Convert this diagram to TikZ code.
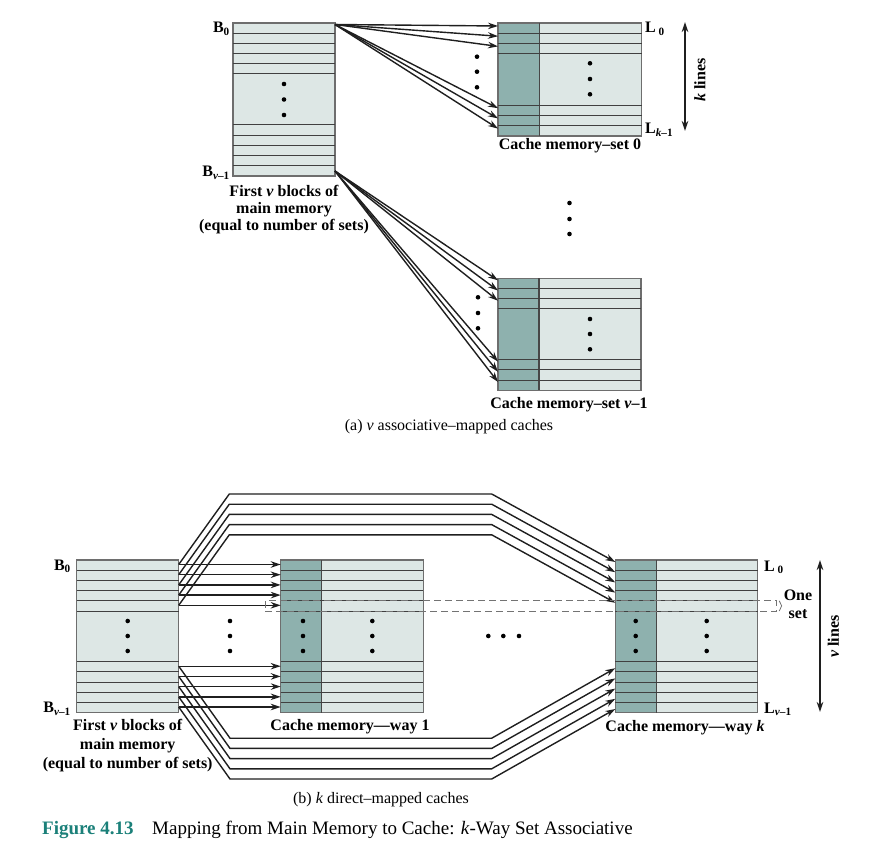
\documentclass[tikz,border=0pt]{standalone}
\usepackage{fontspec}
\setmainfont{Liberation Serif}
\usetikzlibrary{arrows.meta,calc,decorations.pathreplacing}
\definecolor{memlight}{HTML}{DDE7E5}
\definecolor{memdark}{HTML}{8EB1AE}
\definecolor{memedge}{HTML}{6E6E6E}
\definecolor{figteal}{HTML}{1B8079}
\newcommand\rowlines[3]{\foreach \yy in {#3} \draw[rowln] (#1,\yy) -- (#2,\yy);}
\begin{document}
\begin{tikzpicture}[x=1pt,y=-1pt,
  blk/.style={rectangle, draw=memedge, line width=1.2pt, fill=memlight, inner sep=0pt, outer sep=0pt, anchor=north west},
  dkcol/.style={path picture={\fill[memdark] (path picture bounding box.north west) rectangle ([xshift=#1]path picture bounding box.south west);}},
  rowln/.style={draw=black!75, line width=1pt},
  divln/.style={draw=black!72, line width=1.2pt},
  arr/.style={line width=1.4pt, black!88, -{Stealth[length=10pt,width=6.5pt]}},
  dbl/.style={line width=1.5pt, black!88, {Stealth[length=10pt,width=6.5pt]}-{Stealth[length=10pt,width=6.5pt]}},
  lab/.style={font=\fontsize{16}{18}\selectfont\bfseries, inner sep=0pt},
  reg/.style={font=\fontsize{16}{18}\selectfont, inner sep=0pt},
  dotc/.style={fill=black}
]
\useasboundingbox (0,0) rectangle (892,853);

% ================= (a) =================
\node[blk, minimum width=102pt, minimum height=153pt] (ma) at (233,23) {};
\rowlines{233}{335}{33.2,43.4,53.6,63.8,74,125,135.2,145.4,155.6,165.8}

\node[blk, dkcol=41.3pt, minimum width=143.5pt, minimum height=113pt] (c0) at (498,23) {};
\draw[divln] ($(c0.north west)+(41.3,0)$) -- ($(c0.south west)+(41.3,0)$);
\rowlines{498}{641.5}{33.2,43.4,53.6,105.2,115.4,125.6}

\node[blk, dkcol=41pt, minimum width=143pt, minimum height=112pt] (c1) at (498,278.3) {};
\draw[divln] ($(c1.north west)+(41,0)$) -- ($(c1.south west)+(41,0)$);
\rowlines{498}{641}{288.5,298.7,308.9,359.6,369.8,380}

\foreach \o in {3,13.2,23.4,85.2,95.4,105.6}
  \draw[arr] ($(ma.north east)+(0,1.5)$) -- ($(c0.north west)+(0,\o)$);
\foreach \o in {2,12.2,22.4,83.3,93.5,103.7}
  \draw[arr] ($(ma.south east)+(0,-5)$) -- ($(c1.north west)+(0,\o)$);

% dots (a)
\foreach \p in {(284,84),(284,99.5),(284,115),
                (477,56.7),(477,71.7),(477,87.3),
                (590,63.3),(590,79),(590,94.3),
                (569.5,203),(569.5,219),(569.5,234),
                (478,297.3),(478,313),(478,328.3),
                (590,319),(590,334),(590,349.3)}
  \fill[dotc] \p circle (2.3pt);

\node[lab, anchor=base east] (b0a) at (230,32.7) {B\textsubscript{0}};
\node[lab, anchor=base east] (bva) at (230,176.5) {B\textsubscript{\textit{v}–1}};
\node[lab, anchor=base] (fa1) at (284,196.5) {First \textit{v} blocks of};
\node[lab, anchor=base] (fa2) at (284,213.8) {main memory};
\node[lab, anchor=base] (fa3) at (284,230.5) {(equal to number of sets)};
\node[lab, anchor=base west] (l0a) at (645,32.7) {L\,\textsubscript{0}};
\node[lab, anchor=base west] (lka) at (645,134) {L\textsubscript{\textit{k}–1}};
\coordinate (ka1) at (685,22);
\coordinate (ka2) at (685,131);
\draw[dbl] (ka1) -- (ka2);
\node[lab, rotate=90] (klines) at (700,80) {\textit{k} lines};
\node[lab, anchor=base] (cs0) at (570,150) {Cache memory–set 0};
\node[lab, anchor=base] (csv) at (569,408) {Cache memory–set \textit{v}–1};
\node[reg, anchor=base] (capa) at (449,430) {(a) \textit{v} associative–mapped caches};

% ================= (b) =================
\node[blk, minimum width=102pt, minimum height=152.7pt] (mb) at (76.7,560) {};
\rowlines{76.7}{178.7}{570.2,580.4,590.6,600.8,611,661.7,671.9,682.1,692.3,702.5}

\node[blk, dkcol=40.6pt, minimum width=142.6pt, minimum height=152.7pt] (w1) at (280.7,560) {};
\draw[divln] ($(w1.north west)+(40.6,0)$) -- ($(w1.south west)+(40.6,0)$);
\rowlines{280.7}{423.3}{570.2,580.4,590.6,600.8,611,661.7,671.9,682.1,692.3,702.5}

\node[blk, dkcol=41pt, minimum width=142.4pt, minimum height=152.7pt] (wk) at (615.3,560) {};
\draw[divln] ($(wk.north west)+(41,0)$) -- ($(wk.south west)+(41,0)$);
\rowlines{615.3}{757.7}{570.2,580.4,590.6,600.8,611,661.7,671.9,682.1,692.3,702.5}

% horizontal arrows to way 1
\foreach \o in {4.5,14.7,24.9,35.1,45.3,106.2,116.4,126.6,136.8,147}
  \draw[arr] ($(mb.north east)+(0,\o)$) -- ($(w1.north west)+(0,\o)$);
% long arrows over the top to way k
\foreach \o in {4.5,14.7,24.9,35.1,45.3}
  \draw[arr] ($(mb.north east)+(0,\o)$) -- ++(50.6,-70.5) -- ++(262.4,0) -- ($(wk.north west)+(0,{\o-2.5})$);
% long arrows under the bottom to way k
\foreach \o in {106.2,116.4,126.6,136.8,147}
  \draw[arr] ($(mb.north east)+(0,\o)$) -- ++(51.3,72) -- ++(261.7,0) -- ($(wk.north west)+(0,{\o+2})$);

% dots (b)
\foreach \xx in {127.7,230,303,372.3,635.7,706.7}
  \foreach \yy in {621,636,651}
    \fill[dotc] (\xx,\yy) circle (2.3pt);
\foreach \xx in {488.3,503.3,519}
  \fill[dotc] (\xx,636) circle (2.3pt);

% one set dashed box and brace
\node[rectangle, draw=black!55, line width=1pt, dash pattern=on 7pt off 4pt, inner sep=0pt, outer sep=0pt,
      minimum width=511.7pt, minimum height=10.2pt, anchor=north west] (oneset) at (265,600.8) {};
\draw[black!55, line width=0.8pt, decorate, decoration={brace, amplitude=2.5pt}]
  ($(oneset.north east)+(2.5,0)$) -- ($(oneset.south east)+(2.5,0)$);

\node[lab, anchor=base east] (b0b) at (71,570) {B\textsubscript{0}};
\node[lab, anchor=base east] (bvb) at (71,712.7) {B\textsubscript{\textit{v}–1}};
\node[lab, anchor=base] (fb1) at (127.7,730) {First \textit{v} blocks of};
\node[lab, anchor=base] (fb2) at (127.7,749.5) {main memory};
\node[lab, anchor=base] (fb3) at (127.7,768.5) {(equal to number of sets)};
\node[lab, anchor=base] (cw1) at (350,730) {Cache memory—way 1};
\node[lab, anchor=base] (cwk) at (685,731.7) {Cache memory—way \textit{k}};
\node[lab, anchor=base west] (l0b) at (764,571) {L\,\textsubscript{0}};
\node[lab, anchor=base west] (lvb) at (764,713) {L\textsubscript{\textit{v}–1}};
\node[lab, anchor=base] (one) at (798,600.5) {One};
\node[lab, anchor=base] (set) at (798,618) {set};
\coordinate (va1) at (820,560);
\coordinate (va2) at (820,712);
\draw[dbl] (va1) -- (va2);
\node[lab, rotate=90] (vlines) at (833.5,636.7) {\textit{v} lines};
\node[reg, anchor=base] (capb) at (381,803) {(b) \textit{k} direct–mapped caches};

% figure caption
\node[inner sep=0pt, anchor=base west, font=\fontsize{19}{21}\selectfont\bfseries, text=figteal] (fig) at (42,834) {Figure 4.13};
\node[inner sep=0pt, anchor=base west, font=\fontsize{19}{21}\selectfont] (figt) at (152,834) {Mapping from Main Memory to Cache: \textit{k}-Way Set Associative};
\end{tikzpicture}
\end{document}
